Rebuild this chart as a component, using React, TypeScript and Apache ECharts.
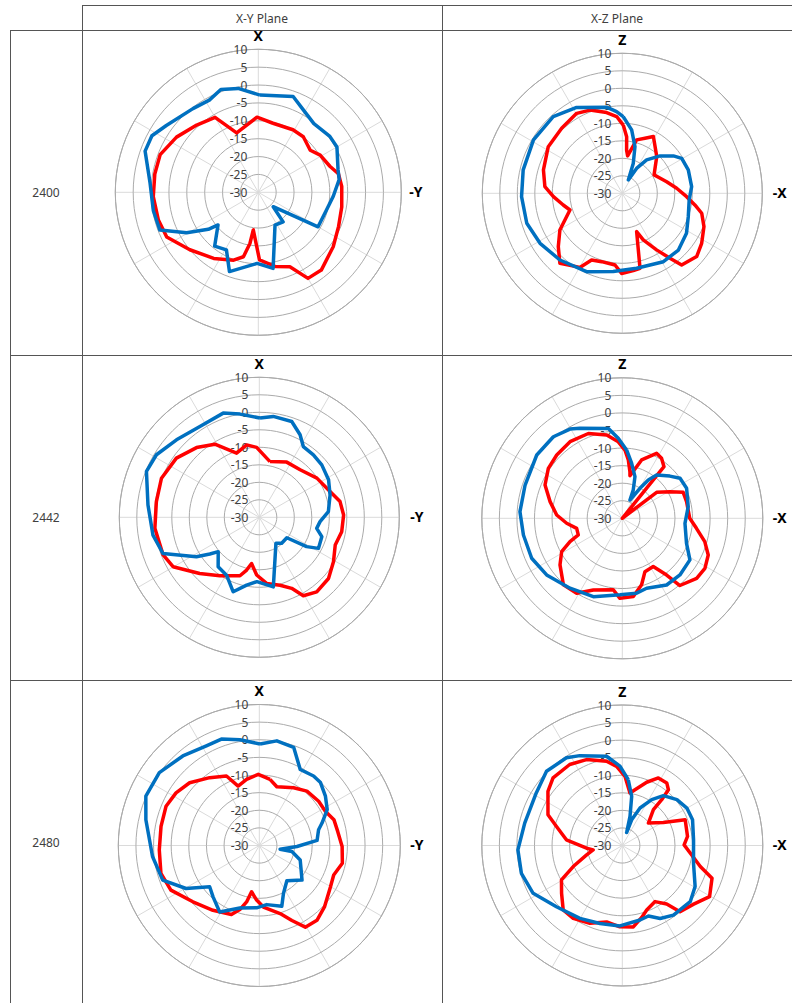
import React, { useEffect, useRef } from "react";
import * as echarts from "echarts";

// ---------- texts ----------
const planeHeaders = ["X-Y Plane", "X-Z Plane"];
const frequencies = ["2400", "2442", "2480"];
const upAxisNames = ["X", "Z"];
const rightAxisNames = ["-Y", "-X"];
const gainMin = -30;
const gainMax = 10;
const gainStep = 5;
const spokeStep = 30;

// ---------- data: [angle in degrees clockwise from top, gain dB] ----------
const xy2400Red = [
  [12, -10.25], [29, -10.0], [39, -10.0], [51, -11.3], [59, -9.8], [70, -8.7], [77, -7.0], [86, -6.6],
  [100, -6.3], [113, -5.6], [126, -4.1], [141, -2.0], [150, -2.2], [157, -7.4], [167, -8.7], [179, -11.1],
  [187.6, -19.4], [189.3, -15.5], [193, -11.5], [200, -9.8], [214, -7.7], [230, -5.0], [244, -1.5],
  [254.5, -1.0], [267.6, -0.6], [280, -0.6], [291, -0.6], [304, -2.4], [317.5, -4.5], [330, -5.8],
  [340, -12.3], [359, -9.0],
];
const xy2400Blue = [
  [1, -2.8], [20, -1.5], [29, -3.8], [39, -5.3], [52, -4.6], [60, -4.6], [74, -6.8], [81, -7.1],
  [93, -9.0], [104.5, -10.3], [120, -10.7], [134, -24.2], [140, -19.2], [153, -19.7], [169, -8.3],
  [181, -10.1], [200, -6.4], [209, -11.6], [219, -10.6], [231, -15.5], [233.5, -12.6], [240.6, -7.0],
  [249, -0.5], [260, -0.2], [275, 0.4], [290, 3.7], [298, 3.7], [306, 1.8], [322, -0.3], [332, -0.8],
  [340, 0.6], [349, -0.4],
];
const xz2400Red = [
  [0.8, -10.5], [4.4, -13.8], [5.7, -17.6], [8.1, -19.2], [15, -14.2], [22.4, -13.0], [28.7, -11.5],
  [43.1, -15.6], [59.9, -19.5], [66, -18.7], [75.3, -16.9], [84.7, -14.4], [93, -11.6], [99.1, -9.0],
  [104.1, -6.6], [112.2, -4.8], [122.2, -3.2], [130.4, -2.1], [140.4, -3.4], [143.7, -7.0], [148.8, -11.1],
  [155.8, -15.4], [159.5, -18.3], [164.2, -13.2], [166.7, -8.0], [171.9, -7.7], [180.5, -7.1], [185.8, -9.4],
  [196.8, -9.6], [204.7, -9.0], [209.8, -5.6], [221.7, -3.2], [230.2, -6.2], [239.5, -9.3], [252.3, -14.3],
  [258.8, -12.8], [267.2, -10.3], [274.9, -7.8], [286.5, -6.5], [302.2, -5.0], [317, -4.6], [330.3, -3.7],
  [338.8, -4.5], [349, -6.5], [355.8, -8.0],
];
const xz2400Blue = [
  [0.7, -8.1], [8.4, -11.7], [15.2, -16.2], [20.1, -20.9], [24.2, -25.8], [29.8, -21.8], [36.1, -18.2],
  [45.3, -14.8], [53.8, -11.9], [59.5, -10.3], [70.5, -10.0], [84.5, -10.1], [95.7, -10.8], [109.5, -10.0],
  [121.9, -8.4], [135.3, -7.2], [149, -7.2], [169.2, -8.2], [186.6, -7.5], [204.5, -5.4], [223.1, -3.9],
  [238.7, -2.5], [252.6, -1.4], [268.1, -1.2], [283.3, -0.9], [301, -0.4], [318, -0.5], [332, -2.2],
  [349.7, -5.0], [356, -6.6],
];
const xy2442Red = [
  [10.8, -13.8], [26.4, -12.4], [40.7, -12.1], [55.8, -10.1], [70, -8.5], [79, -6.5], [88.4, -5.9],
  [99.9, -6.1], [110.1, -6.9], [120.9, -5.3], [131.5, -3.6], [142.4, -3.1], [150.7, -4.3], [155.5, -7.7],
  [163, -9.7], [173.7, -11.0], [182.6, -13.5], [189.5, -16.6], [193.5, -14.5], [198.3, -12.4], [214, -9.85],
  [226.7, -6.6], [240.2, -1.6], [248.6, -0.5], [264, 0.0], [278.7, -0.25], [291.8, 0.1], [305.5, -0.9],
  [318, -3.2], [328.7, -5.55], [340.5, -10.55], [350.1, -9.0], [357.8, -10.0],
];
const xy2442Blue = [
  [0.4, -1.65], [7.9, -0.9], [18.7, -1.1], [26.3, -3.7], [31.9, -6.2], [40.9, -6.4], [50, -6.7],
  [61.6, -7.5], [72.5, -8.8], [85.3, -10.2], [94.1, -12.6], [100.9, -13.3], [107.2, -11.3], [117.7, -10.9],
  [121.8, -14.1], [126.6, -20.2], [139.3, -20.2], [147.3, -21.2], [168.6, -9.7], [182.1, -11.6],
  [190.6, -10.3], [199.3, -7.45], [209.5, -11.0], [219.7, -11.6], [230.1, -14.7], [233.4, -12.4],
  [237.9, -8.8], [249.4, -0.6], [260.5, 0.8], [276.3, 2.0], [292.1, 4.8], [301.3, 4.4], [313.1, 2.4],
  [326.8, 1.0], [340.9, 1.5], [349.4, 0.0],
];
const xz2442Red = [
  [2.2, -10.55], [5.9, -13.3], [9.3, -16.55], [10.2, -17.7], [18.3, -12.5], [27.8, -9.1], [33.2, -9.6],
  [38.9, -11.1], [42, -30], [52.9, -17.75], [60.8, -14.5], [66.9, -11.15], [75.5, -11.1], [90, -10.8],
  [97.7, -8.7], [105.8, -5.6], [113.1, -3.4], [121.2, -2.5], [128.9, -2.8], [139.4, -4.8], [142, -9.5],
  [147.3, -13.7], [157, -13.5], [163.8, -10.3], [172, -7.5], [181.7, -7.2], [187.2, -9.5], [202, -8.0],
  [211.3, -5.0], [221.5, -4.7], [233.2, -7.85], [241.2, -10.3], [246, -13.7], [249.3, -16.6],
  [257.6, -16.7], [264.9, -14.1], [272.9, -11.3], [283, -8.9], [293.3, -6.05], [304, -4.6], [314, -4.05],
  [325.7, -3.6], [338.2, -4.0], [349.4, -5.9], [357, -8.2],
];
const xz2442Blue = [
  [3.6, -10.5], [9.6, -14.1], [16.9, -17.6], [21.2, -21.4], [22.7, -24.35], [30.5, -20.1], [34.1, -16.8],
  [38.4, -14.3], [48.4, -11.9], [55.3, -10.0], [65, -9.8], [80, -10.95], [94.6, -12.1], [111.2, -10.4],
  [121.6, -7.4], [134.5, -7.0], [146.4, -7.2], [160.8, -8.9], [169.2, -8.3], [181.7, -8.2], [200.3, -6.2],
  [216.8, -5.15], [233.2, -3.1], [246.2, -1.8], [260.4, -1.45], [273.7, -0.8], [288.9, -0.75],
  [306.5, 0.3], [319.8, 0.4], [329.6, -0.55], [334.8, -1.7], [351.2, -4.1], [357.1, -7.2],
];
const xy2480Red = [
  [9.2, -11.0], [16.6, -12.6], [30.7, -10.95], [41.2, -9.5], [53.3, -9.0], [62.6, -8.9], [70.9, -7.6],
  [79.8, -7.4], [90.7, -6.5], [102.1, -5.9], [111.6, -7.3], [120.1, -6.65], [133.3, -4.6], [142.4, -3.2],
  [150.6, -3.4], [156.5, -6.8], [163, -9.8], [176.2, -12.5], [182.8, -14.5], [189.5, -16.7], [192.7, -13.6],
  [196.9, -11.0], [202, -8.9], [215.6, -7.4], [229.7, -5.3], [243.2, -1.9], [254.2, -1.0], [267.5, -1.6],
  [281, -1.6], [292.8, -1.3], [302.3, -2.05], [312, -3.4], [323.8, -6.15], [334.7, -8.2], [340.4, -12.1],
  [349.1, -10.9], [359.2, -9.8],
];
const xy2480Blue = [
  [0.4, -1.2], [9.5, 0.1], [19.3, -0.5], [28.3, -5.5], [38, -5.0], [44.2, -5.1], [53.3, -6.6], [62.1, -8.2],
  [70.3, -11.1], [75.1, -12.6], [85, -13.55], [91.5, -19.3], [100.1, -24.0], [100.5, -20.6], [109.4, -17.7],
  [129, -14.4], [142, -17.3], [153.3, -14.75], [159.7, -11.6], [172.9, -13.1], [182.5, -12.3],
  [197.3, -11.45], [210.8, -8.05], [222, -10.4], [230.3, -11.7], [239.6, -5.9], [250.3, -0.9],
  [264.1, 0.45], [282.8, 3.0], [293.5, 5.1], [306.1, 5.1], [319.5, 3.4], [332, 2.0], [340.4, 2.05],
  [349.6, 0.5],
];
const xz2480Red = [
  [2.2, -10.3], [8.3, -14.9], [12.8, -13.7], [21.1, -10.7], [28.1, -8.2], [35.4, -8.15], [39.6, -9.4],
  [40.7, -12.8], [41, -16.5], [49.3, -20.2], [60.7, -16.6], [67.7, -10.65], [82.1, -11.25], [89.4, -12.4],
  [96.5, -10.5], [105.1, -7.0], [110.1, -2.8], [120.4, -1.2], [129.4, -3.7], [138.9, -5.0], [142.8, -9.1],
  [149.7, -11.5], [159.3, -10.35], [164.9, -8.8], [172.3, -6.6], [181.7, -6.85], [191.6, -7.8],
  [202.6, -6.0], [214, -5.0], [222.5, -5.1], [231.8, -8.0], [240.5, -10.1], [246.8, -14.8], [255.3, -19.5],
  [261.5, -21.6], [265.7, -19.8], [275.8, -14.0], [286.1, -10.5], [292.5, -7.1], [306.1, -3.8],
  [314.3, -2.45], [327, -2.5], [337.4, -3.5], [349.4, -5.6], [355.9, -7.4],
];
const xz2480Blue = [
  [5.2, -11.2], [10.8, -15.75], [14.8, -21.4], [18.4, -26.1], [20, -22.2], [25.3, -18.2], [32.7, -14.5],
  [39.5, -11.6], [50, -9.7], [59.9, -8.75], [69.9, -8.7], [85.4, -9.65], [104, -9.1], [119.4, -6.2],
  [129.6, -4.9], [143.7, -5.4], [152.6, -6.6], [159.7, -8.6], [166.6, -8.2], [181.7, -7.1], [196, -6.9],
  [210.2, -6.0], [227.1, -4.4], [241.8, -1.2], [254.6, -0.2], [267.6, -0.25], [282.9, -1.5], [301.4, -1.3],
  [314.4, 0.2], [327.5, -0.4], [334.7, -1.7], [350, -4.2], [358.3, -7.4],
];

const plotSeries = [
  [xy2400Red, xy2400Blue],
  [xz2400Red, xz2400Blue],
  [xy2442Red, xy2442Blue],
  [xz2442Red, xz2442Blue],
  [xy2480Red, xy2480Blue],
  [xz2480Red, xz2480Blue],
];

// ---------- layout ----------
const W = 792;
const H = 1003;
const FONT = '"Noto Sans", "DejaVu Sans", sans-serif';
const RED = "#ff0000";
const BLUE = "#0070c0";
const RING = "#ababab";
const SPOKE = "#dadada";
const BORDER = "#555555";
const plotBoxes = [
  { cx: 258.3, cy: 192.3, r: 143 },
  { cx: 622.3, cy: 193.3, r: 140 },
  { cx: 259.3, cy: 517.3, r: 140 },
  { cx: 622.3, cy: 518.3, r: 140.5 },
  { cx: 259.3, cy: 845.5, r: 141 },
  { cx: 622.3, cy: 845.5, r: 140.5 },
];
const rowLines = [30.5, 355.5, 680.5];
const rowCenters = [192, 517, 842];
const colLines = [82.5, 442.5];
const headerCenters = [262, 617];

export default function App() {
  const ref = useRef<HTMLDivElement>(null);
  useEffect(() => {
    if (!ref.current) return;
    const chart = echarts.init(ref.current, undefined, { renderer: "svg", width: W, height: H });
    const polar: any[] = [];
    const angleAxis: any[] = [];
    const radiusAxis: any[] = [];
    const series: any[] = [];
    const graphic: any[] = [];

    plotBoxes.forEach((p, i) => {
      polar.push({ center: [p.cx, p.cy], radius: p.r });
      angleAxis.push({
        polarIndex: i,
        type: "value",
        min: 0,
        max: 360,
        interval: spokeStep,
        startAngle: 90,
        clockwise: true,
        axisLine: { show: true, lineStyle: { color: RING, width: 1 } },
        axisTick: { show: false },
        axisLabel: { show: false },
        splitLine: { show: true, lineStyle: { color: SPOKE, width: 1 } },
        z: 1,
      });
      radiusAxis.push({
        polarIndex: i,
        type: "value",
        min: gainMin,
        max: gainMax,
        interval: gainStep,
        axisLine: { show: false },
        axisTick: { show: false },
        axisLabel: { show: true, margin: 11, color: "#404040", fontSize: 12, fontFamily: FONT },
        splitLine: { show: true, lineStyle: { color: RING, width: 1 } },
        z: 2,
      });
      const [redData, blueData] = plotSeries[i];
      const toPolar = (d: number[][]) => {
        const pts = d.map(([a, g]) => [g, a]);
        pts.push(pts[0]);
        return pts;
      };
      series.push({
        type: "line",
        coordinateSystem: "polar",
        polarIndex: i,
        data: toPolar(redData),
        symbol: "none",
        smooth: false,
        lineStyle: { color: RED, width: 3.5, join: "round" },
        z: 3,
      });
      series.push({
        type: "line",
        coordinateSystem: "polar",
        polarIndex: i,
        data: toPolar(blueData),
        symbol: "none",
        smooth: false,
        lineStyle: { color: BLUE, width: 3.5, join: "round" },
        z: 4,
      });
      const col = i % 2;
      graphic.push({
        type: "text",
        x: p.cx,
        y: p.cy - p.r - 14,
        style: {
          text: upAxisNames[col],
          fill: "#000",
          font: `bold 14px ${FONT}`,
          textAlign: "center",
          verticalAlign: "middle",
        },
      });
      graphic.push({
        type: "text",
        x: p.cx + 157.5,
        y: p.cy - 1,
        style: {
          text: rightAxisNames[col],
          fill: "#000",
          font: `bold 14px ${FONT}`,
          textAlign: "center",
          verticalAlign: "middle",
        },
      });
    });

    // table borders
    const line = (x1: number, y1: number, x2: number, y2: number) => ({
      type: "line",
      shape: { x1, y1, x2, y2 },
      style: { stroke: BORDER, lineWidth: 1 },
      silent: true,
    });
    graphic.push(line(82, 5.5, W, 5.5));
    rowLines.forEach((y) => graphic.push(line(10, y, W, y)));
    graphic.push(line(10.5, 30, 10.5, H));
    colLines.forEach((x) => graphic.push(line(x, 5, x, H)));

    planeHeaders.forEach((t, i) =>
      graphic.push({
        type: "text",
        x: headerCenters[i],
        y: 18,
        style: { text: t, fill: "#404040", font: `12px ${FONT}`, textAlign: "center", verticalAlign: "middle" },
      })
    );
    frequencies.forEach((t, i) =>
      graphic.push({
        type: "text",
        x: 46,
        y: rowCenters[i],
        style: { text: t, fill: "#404040", font: `12px ${FONT}`, textAlign: "center", verticalAlign: "middle" },
      })
    );

    chart.setOption({
      animation: false,
      backgroundColor: "#ffffff",
      polar,
      angleAxis,
      radiusAxis,
      series,
      graphic,
    });
    return () => chart.dispose();
  }, []);
  return <div ref={ref} style={{ position: "absolute", left: 0, top: 0, width: W, height: H }} />;
}
